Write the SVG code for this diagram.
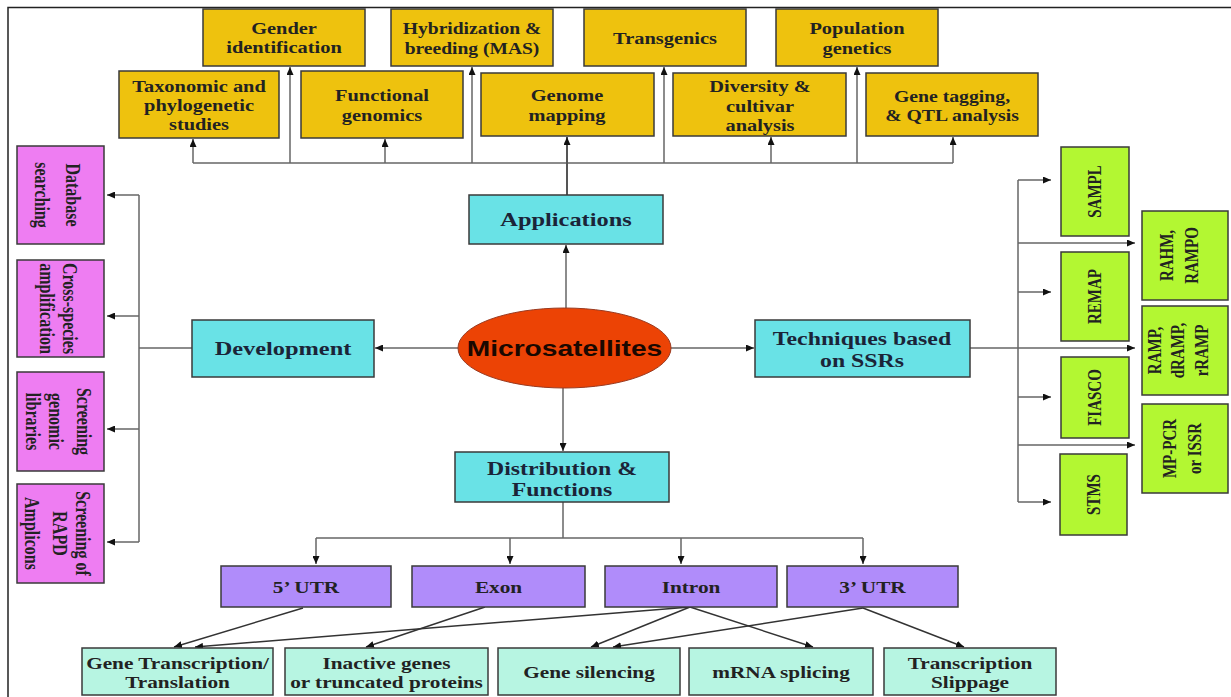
<svg xmlns="http://www.w3.org/2000/svg" width="1231" height="697" viewBox="0 0 1231 697">
<style>
.bx{stroke:#3a3a3a;stroke-width:1.5}
.yl{fill:#EEC20E}
.cy{fill:#69E2E6}
.pk{fill:#EE7DF2}
.gr{fill:#B3F732}
.pu{fill:#B08CFA}
.tl{fill:#B7F5E2}
.t{font-family:"Liberation Serif","Times New Roman",serif;font-weight:bold;text-anchor:middle;fill:#222}
.f17{font-size:17px}
.f19{font-size:19.5px;fill:#1b2438}
.f16{font-size:16px}
.f15{font-size:15px}
.c{fill:none;stroke:#666;stroke-width:1.5}
.d{fill:none;stroke:#333;stroke-width:1.4}
</style>
<defs>
<marker id="ah" markerWidth="8" markerHeight="7" refX="8" refY="3.5" orient="auto" markerUnits="userSpaceOnUse">
<path d="M0,0 L8,3.5 L0,7 z" fill="#111"/>
</marker>
</defs>
<rect width="1231" height="697" fill="#fff"/>
<path d="M8,697 V7.5 H1231" fill="none" stroke="#222" stroke-width="1.5"/>

<g id="connectors">
<!-- top tree -->
<path class="c" d="M193,163 H953"/>
<path class="c" d="M193,163 V139" marker-end="url(#ah)"/>
<path class="c" d="M385,163 V139" marker-end="url(#ah)"/>
<path class="c" d="M771,163 V137" marker-end="url(#ah)"/>
<path class="c" d="M953,163 V137" marker-end="url(#ah)"/>
<path class="c" d="M290,163 V67" marker-end="url(#ah)"/>
<path class="c" d="M472,163 V67" marker-end="url(#ah)"/>
<path class="c" d="M664,163 V67" marker-end="url(#ah)"/>
<path class="c" d="M857,163 V67" marker-end="url(#ah)"/>
<path class="c" style="stroke:#555;stroke-width:2" d="M567,195 V137" marker-end="url(#ah)"/>
<!-- center -->
<path class="c" d="M566,308 V245" marker-end="url(#ah)"/>
<path class="c" d="M458,348 H375" marker-end="url(#ah)"/>
<path class="c" d="M671,348 H754" marker-end="url(#ah)"/>
<path class="c" d="M563,388 V451" marker-end="url(#ah)"/>
<!-- development -->
<path class="c" d="M192,348 H139"/>
<path class="c" d="M139,195 V542"/>
<path class="c" d="M139,195 H107" marker-end="url(#ah)"/>
<path class="c" d="M139,316 H107" marker-end="url(#ah)"/>
<path class="c" d="M139,429 H107" marker-end="url(#ah)"/>
<path class="c" d="M139,542 H107" marker-end="url(#ah)"/>
<!-- techniques -->
<path class="c" d="M970,348 H1135" marker-end="url(#ah)"/>
<path class="c" d="M1018,180 V502"/>
<path class="c" d="M1018,180 H1051" marker-end="url(#ah)"/>
<path class="c" d="M1018,243 H1135" marker-end="url(#ah)"/>
<path class="c" d="M1018,292 H1051" marker-end="url(#ah)"/>
<path class="c" d="M1018,397 H1051" marker-end="url(#ah)"/>
<path class="c" d="M1018,445 H1135" marker-end="url(#ah)"/>
<path class="c" d="M1018,502 H1051" marker-end="url(#ah)"/>
<!-- distribution -->
<path class="c" d="M563,502 V538"/>
<path class="c" d="M316,538 H863"/>
<path class="c" d="M316,538 V564" marker-end="url(#ah)"/>
<path class="c" d="M510,538 V564" marker-end="url(#ah)"/>
<path class="c" d="M681,538 V564" marker-end="url(#ah)"/>
<path class="c" d="M863,538 V564" marker-end="url(#ah)"/>
<!-- regions to functions -->
<path class="d" d="M303,608 L174,647" marker-end="url(#ah)"/>
<path class="d" d="M690,607 L195,647" marker-end="url(#ah)"/>
<path class="d" d="M485,607 L366,647" marker-end="url(#ah)"/>
<path class="d" d="M690,607 L591,647" marker-end="url(#ah)"/>
<path class="d" d="M863,608 L613,647" marker-end="url(#ah)"/>
<path class="d" d="M690,607 L813,647" marker-end="url(#ah)"/>
<path class="d" d="M863,608 L964,647" marker-end="url(#ah)"/>
</g>

<g id="gender"><rect class="bx yl" x="203" y="9" width="162" height="57"/>
<text class="t f17" transform="translate(284,0) scale(1.2,1)"><tspan x="0" y="34">Gender</tspan><tspan x="0" y="53">identification</tspan></text></g>
<g id="hybridization"><rect class="bx yl" x="391" y="9" width="162" height="57"/>
<text class="t f17" transform="translate(472,0) scale(1.15,1)"><tspan x="0" y="34">Hybridization &amp;</tspan><tspan x="0" y="54">breeding (MAS)</tspan></text></g>
<g id="transgenics"><rect class="bx yl" x="584" y="9" width="162" height="57"/>
<text class="t f17" transform="translate(665,0) scale(1.2,1)"><tspan x="0" y="44">Transgenics</tspan></text></g>
<g id="population"><rect class="bx yl" x="776" y="9" width="162" height="57"/>
<text class="t f17" transform="translate(857,0) scale(1.2,1)"><tspan x="0" y="34">Population</tspan><tspan x="0" y="54">genetics</tspan></text></g>

<g id="taxonomic"><rect class="bx yl" x="119" y="71" width="160" height="67"/>
<text class="t f17" transform="translate(199,0) scale(1.2,1)"><tspan x="0" y="92">Taxonomic and</tspan><tspan x="0" y="111">phylogenetic</tspan><tspan x="0" y="130">studies</tspan></text></g>
<g id="functional"><rect class="bx yl" x="301" y="71" width="162" height="67"/>
<text class="t f17" transform="translate(382,0) scale(1.2,1)"><tspan x="0" y="101">Functional</tspan><tspan x="0" y="121">genomics</tspan></text></g>
<g id="genome"><rect class="bx yl" x="481" y="73" width="173" height="63"/>
<text class="t f17" transform="translate(567,0) scale(1.2,1)"><tspan x="0" y="101">Genome</tspan><tspan x="0" y="121">mapping</tspan></text></g>
<g id="diversity"><rect class="bx yl" x="673" y="73" width="173" height="63"/>
<text class="t f17" transform="translate(760,0) scale(1.2,1)"><tspan x="0" y="92">Diversity &amp;</tspan><tspan x="0" y="112">cultivar</tspan><tspan x="0" y="131">analysis</tspan></text></g>
<g id="genetagging"><rect class="bx yl" x="866" y="73" width="172" height="63"/>
<text class="t f17" transform="translate(952,0) scale(1.16,1)"><tspan x="0" y="102">Gene tagging,</tspan><tspan x="0" y="121">&amp; QTL analysis</tspan></text></g>

<g id="applications"><rect class="bx cy" x="469" y="195" width="194" height="49"/>
<text class="t f19" transform="translate(566,0) scale(1.25,1)"><tspan x="0" y="226">Applications</tspan></text></g>
<g id="development"><rect class="bx cy" x="192" y="320" width="182" height="57"/>
<text class="t f19" transform="translate(283,0) scale(1.25,1)"><tspan x="0" y="355">Development</tspan></text></g>
<g id="techniques"><rect class="bx cy" x="755" y="320" width="215" height="57"/>
<text class="t f19" transform="translate(862,0) scale(1.22,1)"><tspan x="0" y="345">Techniques based</tspan><tspan x="0" y="367">on SSRs</tspan></text></g>
<g id="distribution"><rect class="bx cy" x="455" y="452" width="214" height="50"/>
<text class="t f19" transform="translate(562,0) scale(1.22,1)"><tspan x="0" y="475">Distribution &amp;</tspan><tspan x="0" y="496">Functions</tspan></text></g>

<g id="microsatellites"><ellipse cx="564.5" cy="348" rx="106.5" ry="40" fill="#EC4305" stroke="#9a3a20" stroke-width="1"/>
<text transform="translate(564.5,0) scale(1.28,1)" x="0" y="356" style="font-family:'Liberation Sans',Arial,sans-serif;font-weight:bold;font-size:22px;text-anchor:middle;fill:#1a0800">Microsatellites</text></g>

<g id="database"><rect class="bx pk" x="17" y="146" width="87" height="98"/>
<text class="t f16" transform="translate(60.5,195) scale(1.3,1) rotate(90)"><tspan x="0" y="-4.3">Database</tspan><tspan x="0" y="19.5">searching</tspan></text></g>
<g id="crossspecies"><rect class="bx pk" x="17" y="260" width="87" height="97"/>
<text class="t f16" transform="translate(60.5,308.5) scale(1.3,1) rotate(90)"><tspan x="0" y="-2">Cross-species</tspan><tspan x="0" y="15.7">amplification</tspan></text></g>
<g id="screeninggenomic"><rect class="bx pk" x="17" y="372" width="87" height="99"/>
<text class="t f16" transform="translate(60.5,421.5) scale(1.3,1) rotate(90)"><tspan x="0" y="-12.8">Screening</tspan><tspan x="0" y="8.8">genomic</tspan><tspan x="0" y="26.5">libraries</tspan></text></g>
<g id="screeningrapd"><rect class="bx pk" x="17" y="484" width="87" height="99"/>
<text class="t f16" transform="translate(60.5,533.5) scale(1.3,1) rotate(90)"><tspan x="0" y="-12">Screening of</tspan><tspan x="0" y="5.7">RAPD</tspan><tspan x="0" y="27.2">Amplicons</tspan></text></g>

<g id="sampl"><rect class="bx gr" x="1061" y="147" width="68" height="89"/>
<text class="t f15" transform="translate(1095,191.5) scale(1.25,1) rotate(-90)"><tspan x="0" y="5">SAMPL</tspan></text></g>
<g id="remap"><rect class="bx gr" x="1061" y="252" width="68" height="89"/>
<text class="t f15" transform="translate(1095,296.5) scale(1.25,1) rotate(-90)"><tspan x="0" y="5">REMAP</tspan></text></g>
<g id="fiasco"><rect class="bx gr" x="1061" y="357" width="68" height="81"/>
<text class="t f15" transform="translate(1095,397.5) scale(1.25,1) rotate(-90)"><tspan x="0" y="5">FIASCO</tspan></text></g>
<g id="stms"><rect class="bx gr" x="1060" y="454" width="67" height="81"/>
<text class="t f15" transform="translate(1093.5,494.5) scale(1.25,1) rotate(-90)"><tspan x="0" y="5">STMS</tspan></text></g>
<g id="rahm"><rect class="bx gr" x="1142" y="211" width="86" height="89"/>
<text class="t f15" transform="translate(1185,255.5) scale(1.25,1) rotate(-90)"><tspan x="0" y="-9.4">RAHM,</tspan><tspan x="0" y="10.6">RAMPO</tspan></text></g>
<g id="ramp"><rect class="bx gr" x="1142" y="306" width="86" height="89"/>
<text class="t f15" transform="translate(1185,350.5) scale(1.25,1) rotate(-90)"><tspan x="0" y="-19">RAMP,</tspan><tspan x="0" y="-0.6">dRAMP,</tspan><tspan x="0" y="18.6">rRAMP</tspan></text></g>
<g id="mppcr"><rect class="bx gr" x="1142" y="404" width="86" height="89"/>
<text class="t f15" transform="translate(1185,448.5) scale(1.25,1) rotate(-90)"><tspan x="0" y="-7">MP-PCR</tspan><tspan x="0" y="13">or ISSR</tspan></text></g>

<g id="utr5"><rect class="bx pu" x="221" y="566" width="170" height="41"/>
<text class="t f17" transform="translate(306,0) scale(1.25,1)"><tspan x="0" y="593">5’ UTR</tspan></text></g>
<g id="exon"><rect class="bx pu" x="412" y="566" width="173" height="41"/>
<text class="t f17" transform="translate(498.5,0) scale(1.25,1)"><tspan x="0" y="593">Exon</tspan></text></g>
<g id="intron"><rect class="bx pu" x="605" y="566" width="172" height="41"/>
<text class="t f17" transform="translate(691,0) scale(1.25,1)"><tspan x="0" y="593">Intron</tspan></text></g>
<g id="utr3"><rect class="bx pu" x="787" y="566" width="171" height="41"/>
<text class="t f17" transform="translate(872.5,0) scale(1.25,1)"><tspan x="0" y="593">3’ UTR</tspan></text></g>

<g id="genetranscription"><rect class="bx tl" x="82" y="648" width="191" height="47"/>
<text class="t f17" transform="translate(177.5,0) scale(1.25,1)"><tspan x="0" y="669">Gene Transcription/</tspan><tspan x="0" y="688">Translation</tspan></text></g>
<g id="inactive"><rect class="bx tl" x="285" y="648" width="203" height="47"/>
<text class="t f17" transform="translate(386.5,0) scale(1.25,1)"><tspan x="0" y="669">Inactive genes</tspan><tspan x="0" y="688">or truncated proteins</tspan></text></g>
<g id="silencing"><rect class="bx tl" x="498" y="648" width="182" height="47"/>
<text class="t f17" transform="translate(589,0) scale(1.25,1)"><tspan x="0" y="678">Gene silencing</tspan></text></g>
<g id="splicing"><rect class="bx tl" x="689" y="648" width="184" height="47"/>
<text class="t f17" transform="translate(781,0) scale(1.25,1)"><tspan x="0" y="678">mRNA splicing</tspan></text></g>
<g id="slippage"><rect class="bx tl" x="884" y="648" width="172" height="47"/>
<text class="t f17" transform="translate(970,0) scale(1.25,1)"><tspan x="0" y="669">Transcription</tspan><tspan x="0" y="688">Slippage</tspan></text></g>
</svg>
